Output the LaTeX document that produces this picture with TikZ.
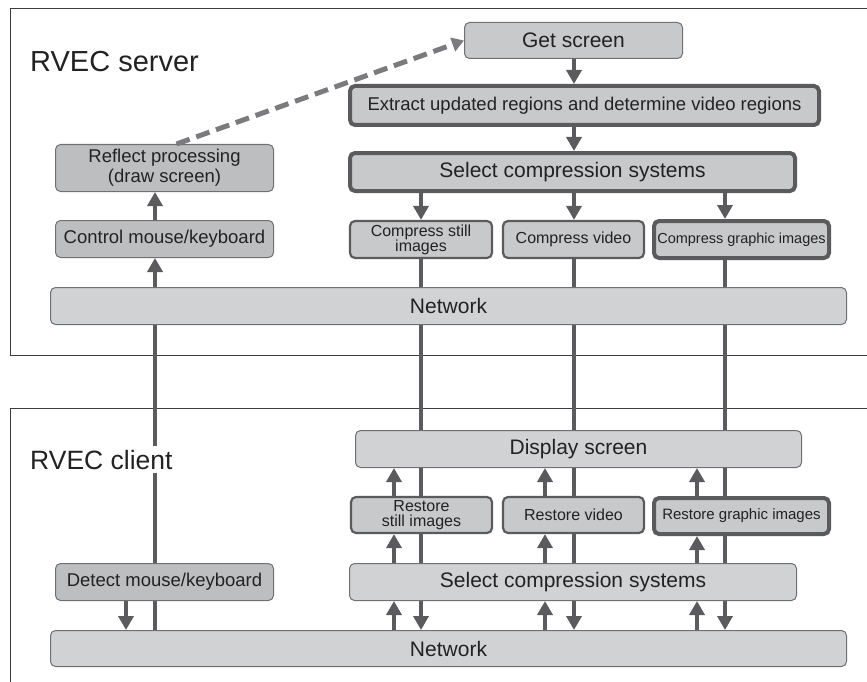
\documentclass[tikz,border=0pt]{standalone}
\usepackage{fontspec}
\setmainfont{Liberation Sans}
\usetikzlibrary{arrows.meta}
\definecolor{boxdark}{HTML}{BDBEC0}
\definecolor{boxmid}{HTML}{C8C9CB}
\definecolor{boxlight}{HTML}{D1D2D4}
\definecolor{edgegray}{HTML}{707072}
\definecolor{flowgray}{HTML}{5B5B5D}
\definecolor{dashgray}{HTML}{7B7B7D}
\definecolor{textgray}{HTML}{222222}
\definecolor{framegray}{HTML}{3C3C3C}
\newcommand\fntlg{\fontsize{21}{23}\selectfont}
\newcommand\fntmd{\fontsize{18.5}{20}\selectfont}
\newcommand\fntsm{\fontsize{16}{15}\selectfont}
\pgfdeclarelayer{background}
\pgfsetlayers{background,main}
\tikzset{
  box/.style={rectangle,rounded corners=5pt,draw=edgegray,line width=1pt,text=textgray,inner sep=0pt,align=center},
  midbox/.style={box,draw=flowgray,line width=2.2pt},
  thickbox/.style={box,draw=flowgray,line width=4pt},
  flow/.style={draw=flowgray,line width=4pt,-{Triangle[width=15pt,length=14pt]}},
  dashflow/.style={draw=dashgray,line width=5pt,dash pattern=on 14pt off 7pt,-{Triangle[width=14pt,length=12pt]}},
  frame/.style={draw=framegray,line width=0.8pt}
}
\begin{document}
\begin{tikzpicture}[x=1pt,y=-1pt]
    \useasboundingbox (0,0) rectangle (867,682);
    \coordinate (mouseup) at (155,0);
    \coordinate (mousedn) at (126,0);
    \coordinate (stilldn) at (421,0);
    \coordinate (videodn) at (574,0);
    \coordinate (graphdn) at (725,0);
    \coordinate (stillup) at (394,0);
    \coordinate (videoup) at (545,0);
    \coordinate (graphup) at (697,0);
    \node[anchor=base west,text=textgray,font=\fontsize{29}{31}\selectfont,inner sep=0pt] (srvlabel) at (30,72) {RVEC server};
    \node[anchor=base west,text=textgray,font=\fontsize{26.5}{28}\selectfont,fill=white,inner sep=4pt] (clilabel) at (26,469) {RVEC client};
    \node[box,fill=boxmid,minimum width=218,minimum height=36,font=\fntlg] (getscr) at (573.5,40.5) {Get screen};
    \node[thickbox,fill=boxmid,minimum width=469,minimum height=39,font=\fntmd] (extract) at (584.5,105.5) {Extract updated regions and determine video regions};
    \node[thickbox,fill=boxmid,minimum width=445,minimum height=38,font=\fntlg] (selsrv) at (572.5,172) {Select compression systems};
    \node[box,fill=boxdark,minimum width=218,minimum height=47,font=\fntmd] (reflect) at (164.5,168) {Reflect processing\\(draw screen)};
    \node[box,fill=boxdark,minimum width=218,minimum height=37,font=\fntmd] (ctrl) at (164.5,239) {Control mouse/keyboard};
    \node[midbox,fill=boxmid,minimum width=142,minimum height=37,font=\fntsm] (cstill) at (421,239.5) {Compress still\\images};
    \node[midbox,fill=boxmid,minimum width=141,minimum height=37,font=\fntsm] (cvideo) at (573.5,239.5) {Compress video};
    \node[thickbox,fill=boxmid,minimum width=175,minimum height=37,font=\fontsize{14.5}{16}\selectfont] (cgraph) at (741.5,239.5) {Compress graphic images};
    \node[box,fill=boxlight,minimum width=796,minimum height=37,font=\fntlg] (netsrv) at (448.5,306) {Network};
    \node[box,fill=boxlight,minimum width=446,minimum height=37,font=\fntlg] (display) at (578.5,449) {Display screen};
    \node[midbox,fill=boxmid,minimum width=141,minimum height=36,font=\fntsm] (rstill) at (421.5,515) {Restore\\still images};
    \node[midbox,fill=boxmid,minimum width=141,minimum height=36,font=\fntsm] (rvideo) at (573.5,515) {Restore video};
    \node[thickbox,fill=boxmid,minimum width=175,minimum height=36,font=\fontsize{15}{16}\selectfont] (rgraph) at (741.5,516) {Restore graphic images};
    \node[box,fill=boxlight,minimum width=447,minimum height=37,font=\fntlg] (selcli) at (573,582) {Select compression systems};
    \node[box,fill=boxdark,minimum width=218,minimum height=37,font=\fntmd] (detect) at (164.5,582) {Detect mouse/keyboard};
    \node[box,fill=boxlight,minimum width=796,minimum height=36,font=\fntlg] (netcli) at (448.5,648.5) {Network};
    \begin{pgfonlayer}{background}
      \draw[frame] (867,8) -- (10,8) -- (10,355) -- (867,355);
      \draw[frame] (867,408) -- (10,408) -- (10,682);
      \draw[flow] (netcli.north -| mouseup) -- (ctrl.south -| mouseup);
      \foreach \c/\k in {stilldn/cstill,videodn/cvideo,graphdn/cgraph} {
        \draw[flow] (\k.south -| \c) -- (netcli.north -| \c);
      }
    \end{pgfonlayer}
    \draw[dashflow] ([xshift=12pt]reflect.north) -- (getscr.west);
    \draw[flow] (getscr.south -| videodn) -- (extract.north -| videodn);
    \draw[flow] (extract.south -| videodn) -- (selsrv.north -| videodn);
    \foreach \c/\k in {stilldn/cstill,videodn/cvideo,graphdn/cgraph} {
      \draw[flow] (selsrv.south -| \c) -- (\k.north -| \c);
    }
    \draw[flow] (ctrl.north -| mouseup) -- (reflect.south -| mouseup);
    \draw[flow] (detect.south -| mousedn) -- (netcli.north -| mousedn);
    \foreach \c/\r in {stillup/rstill,videoup/rvideo,graphup/rgraph} {
      \draw[flow] (netcli.north -| \c) -- (selcli.south -| \c);
      \draw[flow] (selcli.north -| \c) -- (\r.south -| \c);
      \draw[flow] (\r.north -| \c) -- (display.south -| \c);
    }
  \end{tikzpicture}
\end{document}
